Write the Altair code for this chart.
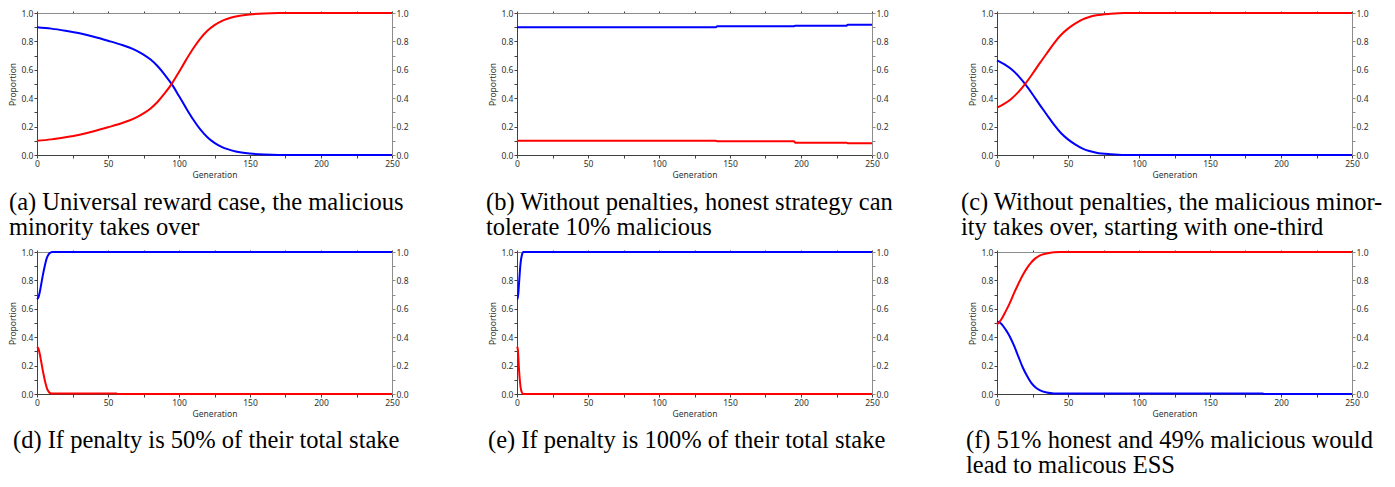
import altair as alt
import pandas as pd

# ---------------- data ----------------
A_GEN = [0, 10, 20, 30, 40, 50, 60, 65, 70, 75, 80, 85, 90, 95, 100, 105, 110, 115, 120, 125, 130, 140, 150, 160, 170, 250]
A_HONEST = [0.90, 0.89, 0.875, 0.857, 0.833, 0.805, 0.775, 0.757, 0.735, 0.707, 0.672, 0.625, 0.565, 0.497,
            0.415, 0.33, 0.25, 0.18, 0.125, 0.085, 0.057, 0.025, 0.01, 0.003, 0.0, 0.0]
A_MALICIOUS = [0.10, 0.11, 0.125, 0.143, 0.167, 0.195, 0.225, 0.243, 0.265, 0.293, 0.328, 0.375, 0.435, 0.503,
               0.585, 0.67, 0.75, 0.82, 0.875, 0.915, 0.943, 0.975, 0.99, 0.997, 1.0, 1.0]

B_GEN = [0, 140, 141, 195, 196, 232, 233, 250]
B_HONEST = [0.90, 0.90, 0.907, 0.907, 0.911, 0.911, 0.918, 0.918]
B_MALICIOUS = [0.10, 0.10, 0.096, 0.096, 0.087, 0.087, 0.082, 0.082]

C_GEN = [0, 5, 10, 15, 20, 25, 30, 35, 40, 45, 50, 55, 60, 65, 70, 80, 90, 250]
C_HONEST = [0.667, 0.64, 0.605, 0.557, 0.497, 0.428, 0.355, 0.285, 0.215, 0.155, 0.11, 0.075, 0.047,
            0.028, 0.016, 0.005, 0.0, 0.0]
C_MALICIOUS = [0.333, 0.36, 0.395, 0.443, 0.503, 0.572, 0.645, 0.715, 0.785, 0.845, 0.89, 0.925, 0.953,
               0.972, 0.984, 0.995, 1.0, 1.0]

D_GEN_HONEST = [0, 1, 2, 3, 4, 5, 6, 7, 8, 9, 10, 11, 250]
D_HONEST = [0.667, 0.68, 0.72, 0.775, 0.83, 0.88, 0.925, 0.96, 0.98, 0.993, 0.998, 1.0, 1.0]
D_GEN_MALICIOUS = [0, 1, 2, 3, 4, 5, 6, 7, 8, 9, 10, 11, 56, 57, 250]
D_MALICIOUS = [0.333, 0.32, 0.28, 0.225, 0.17, 0.12, 0.075, 0.04, 0.02, 0.008, 0.004, 0.003, 0.003, 0.0, 0.0]

E_GEN = [0, 0.5, 1.5, 2.5, 3.5, 4.5, 250]
E_HONEST = [0.667, 0.667, 0.79, 0.92, 0.98, 1.0, 1.0]
E_MALICIOUS = [0.333, 0.32, 0.16, 0.05, 0.01, 0.0, 0.0]

F_GEN_HONEST = [0, 3, 6, 9, 12, 15, 18, 21, 24, 27, 30, 35, 40, 187, 188, 250]
F_HONEST = [0.51, 0.495, 0.455, 0.405, 0.34, 0.265, 0.19, 0.13, 0.08, 0.048, 0.027, 0.01, 0.004, 0.003, 0.0, 0.0]
F_GEN_MALICIOUS = [0, 3, 6, 9, 12, 15, 18, 21, 24, 27, 30, 35, 40, 45, 250]
F_MALICIOUS = [0.49, 0.525, 0.58, 0.64, 0.71, 0.775, 0.835, 0.885, 0.925, 0.955, 0.975, 0.99, 0.998, 1.0, 1.0]

CAPTIONS = [
    ["(a) Universal reward case, the malicious", "minority takes over"],
    ["(b) Without penalties, honest strategy can", "tolerate 10% malicious"],
    ["(c) Without penalties, the malicious minor-", "ity takes over, starting with one-third"],
    ["(d) If penalty is 50% of their total stake"],
    ["(e) If penalty is 100% of their total stake"],
    ["(f) 51% honest and 49% malicious would", "lead to malicous ESS"],
]

X_TICKS = list(range(0, 251, 25))
Y_TICKS = [0.0, 0.1, 0.2, 0.3, 0.4, 0.5, 0.6, 0.7, 0.8, 0.9, 1.0]

# ---------------- styling ----------------
BLUE = "#0000ff"
RED = "#ff0000"
W, H = 355, 142
AXIS_FONT = "Noto Sans"
CAP_FONT = "Liberation Serif"
DARK = "#404040"
GREY = "#8c8c8c"

xs = alt.Scale(domain=[0, 250], nice=False, zero=False)
ys = alt.Scale(domain=[0, 1], nice=False)

YLAB = "round(datum.value*10) % 2 == 0 ? format(datum.value, '.1f') : ''"
XLAB = "datum.value % 50 == 0 ? datum.label : ''"


def panel(gen_h, honest, gen_m, malicious, caption, dx, offset, line_h, interp):
    dh = pd.DataFrame({"Generation": gen_h, "Proportion": honest})
    dm = pd.DataFrame({"Generation": gen_m, "Proportion": malicious})

    x_bottom = alt.X("Generation:Q", scale=xs, axis=alt.Axis(
        orient="bottom", values=X_TICKS, labelExpr=XLAB, title="Generation",
        labelFlush=False, labelOverlap=False, tickSize=3, labelPadding=1,
        domainColor=DARK, tickColor=DARK, titlePadding=3))
    y_left = alt.Y("Proportion:Q", scale=ys, axis=alt.Axis(
        orient="left", values=Y_TICKS, labelExpr=YLAB, title="Proportion",
        labelFlush=False, labelOverlap=False, tickSize=3, labelPadding=1,
        domainColor=DARK, tickColor=DARK, titlePadding=3))
    x_top = alt.X("Generation:Q", scale=xs, axis=alt.Axis(
        orient="top", values=X_TICKS, labels=False, title=None, tickSize=2,
        domainColor=GREY, tickColor=DARK))
    y_right = alt.Y("Proportion:Q", scale=ys, axis=alt.Axis(
        orient="right", values=Y_TICKS, labelExpr=YLAB, title=None,
        labelFlush=False, labelOverlap=False, tickSize=3, labelPadding=1,
        domainColor=GREY, tickColor=GREY))

    honest_line = alt.Chart(dh).mark_line(color=BLUE, strokeWidth=2, interpolate=interp).encode(
        x=x_bottom, y=y_left)
    malicious_line = alt.Chart(dm).mark_line(color=RED, strokeWidth=2, interpolate=interp).encode(
        x=x_top, y=y_right)

    return alt.layer(honest_line, malicious_line).properties(
        width=W, height=H,
        title=alt.TitleParams(
            text=caption, orient="bottom", anchor="start", font=CAP_FONT, fontSize=24.5,
            fontWeight="normal", color="black", lineHeight=line_h, baseline="alphabetic",
            offset=offset, dx=dx),
    ).resolve_axis(x="independent", y="independent")


panels = [
    panel(A_GEN, A_HONEST, A_GEN, A_MALICIOUS, CAPTIONS[0], 0, 31, 25, "monotone"),
    panel(B_GEN, B_HONEST, B_GEN, B_MALICIOUS, CAPTIONS[1], -3, 31, 25, "linear"),
    panel(C_GEN, C_HONEST, C_GEN, C_MALICIOUS, CAPTIONS[2], -8, 31, 25, "monotone"),
    panel(D_GEN_HONEST, D_HONEST, D_GEN_MALICIOUS, D_MALICIOUS, CAPTIONS[3], 4, 30, 25, "monotone"),
    panel(E_GEN, E_HONEST, E_GEN, E_MALICIOUS, CAPTIONS[4], -1, 30, 25, "monotone"),
    panel(F_GEN_HONEST, F_HONEST, F_GEN_MALICIOUS, F_MALICIOUS, CAPTIONS[5], -3, 30, 25, "monotone"),
]

chart = alt.concat(
    *panels, columns=3, spacing={"row": 97, "column": 125}, bounds="flush"
).properties(
    padding={"left": 0, "top": 0, "right": 0, "bottom": 1},
    background="white",
).configure_view(
    stroke=GREY, strokeWidth=1
).configure_axis(
    grid=False, labelFont=AXIS_FONT, labelFontSize=8.5, labelColor="#303030",
    titleFont=AXIS_FONT, titleFontSize=8.5, titleFontWeight="normal", titleColor="#303030",
    domainWidth=1, tickWidth=1
)

chart.save("out.html", embed_options={"renderer": "svg", "actions": False})
